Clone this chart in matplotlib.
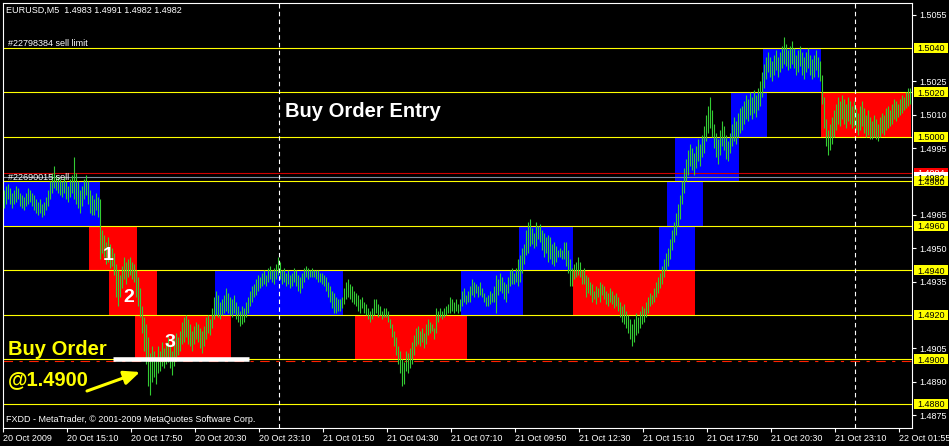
import matplotlib
matplotlib.use('Agg')
import matplotlib.pyplot as plt
from matplotlib.patches import Rectangle
from matplotlib.transforms import blended_transform_factory

plt.rcParams['font.family'] = ['Liberation Sans', 'DejaVu Sans']

# EURUSD M5 bars, high / low in pips above 1.4800 (one value per 5 minute bar)
bar_high = [
    176, 178, 179, 177, 175, 176, 178, 177, 175, 174,
    173, 175, 177, 176, 175, 174, 172, 171, 172, 170,
    171, 173, 176, 180, 184, 187, 183, 182, 181, 180,
    182, 180, 178, 181, 183, 191, 184, 180, 176, 178,
    181, 183, 180, 176, 174, 172, 175, 173, 172, 158,
    156, 153, 155, 152, 150, 148, 143, 140, 138, 142,
    146, 144, 145, 146, 144, 143, 140, 137, 132, 124,
    119, 116, 110, 103, 106, 104, 101, 106, 104, 108,
    105, 108, 110, 107, 104, 109, 112, 110, 113, 117,
    119, 120, 118, 116, 113, 115, 117, 116, 114, 113,
    115, 119, 120, 118, 123, 128, 131, 129, 126, 127,
    129, 132, 130, 128, 127, 129, 126, 124, 122, 124,
    123, 126, 128, 131, 133, 134, 136, 138, 137, 139,
    140, 138, 141, 142, 140, 141, 143, 146, 144, 140,
    141, 139, 140, 138, 139, 141, 140, 138, 137, 139,
    141, 142, 141, 140, 141, 140, 140, 140, 139, 139,
    138, 137, 135, 133, 131, 130, 128, 127, 127, 128,
    132, 135, 136, 134, 133, 131, 130, 129, 127, 128,
    126, 125, 123, 122, 123, 127, 127, 125, 124, 122,
    123, 123, 122, 118, 116, 113, 110, 106, 104, 100,
    99, 104, 103, 105, 108, 111, 114, 115, 113, 114,
    112, 116, 118, 117, 116, 114, 123, 122, 123, 122,
    123, 124, 125, 128, 127, 126, 127, 125, 127, 131,
    132, 129, 131, 133, 136, 135, 134, 133, 135, 132,
    130, 128, 129, 131, 130, 133, 138, 136, 139, 137,
    135, 134, 137, 140, 141, 139, 141, 145, 147, 150,
    152, 158, 162, 163, 159, 157, 162, 160, 161, 158,
    157, 155, 156, 155, 152, 153, 151, 149, 150, 149,
    153, 153, 149, 145, 141, 143, 144, 146, 144, 140,
    141, 138, 137, 135, 134, 131, 133, 132, 135, 134,
    133, 131, 130, 132, 131, 129, 130, 128, 126, 124,
    125, 122, 120, 118, 116, 118, 121, 119, 122, 124,
    123, 126, 128, 130, 129, 132, 135, 137, 139, 142,
    145, 148, 150, 154, 158, 162, 166, 170, 174, 180,
    186, 190, 194, 197, 195, 193, 196, 199, 197, 201,
    205, 210, 214, 218, 212, 206, 202, 199, 203, 207,
    205, 201, 198, 202, 206, 209, 207, 211, 213, 214,
    216, 219, 217, 220, 218, 221, 219, 222, 225, 229,
    233, 236, 238, 236, 234, 237, 239, 236, 238, 241,
    245, 242, 239, 241, 243, 240, 237, 239, 241, 238,
    236, 238, 240, 237, 235, 237, 239, 236, 234, 228,
    218, 208, 203, 206, 209, 212, 215, 218, 216, 219,
    217, 215, 218, 216, 214, 216, 213, 211, 214, 216,
    213, 210, 212, 209, 207, 210, 208, 206, 209, 211,
    210, 213, 214, 212, 215, 217, 216, 215, 217, 219,
    218, 220, 222, 222,
]
bar_low = [
    168, 170, 172, 170, 168, 170, 171, 172, 169, 168,
    167, 169, 170, 171, 169, 167, 166, 165, 166, 164,
    165, 167, 169, 172, 175, 177, 176, 175, 174, 173,
    175, 172, 171, 173, 175, 172, 170, 168, 166, 169,
    172, 174, 170, 166, 165, 165, 167, 164, 145, 148,
    146, 143, 144, 141, 142, 138, 128, 124, 128, 132,
    136, 134, 137, 138, 136, 135, 128, 124, 119, 112,
    104, 98, 88, 84, 90, 92, 89, 94, 95, 97,
    96, 98, 99, 96, 93, 97, 101, 102, 104, 107,
    108, 110, 107, 106, 104, 107, 109, 108, 105, 103,
    106, 109, 112, 111, 114, 118, 120, 119, 118, 120,
    121, 122, 121, 120, 119, 121, 118, 117, 115, 116,
    117, 119, 121, 124, 126, 128, 129, 131, 132, 133,
    134, 133, 135, 136, 135, 134, 136, 138, 136, 134,
    135, 133, 134, 132, 133, 135, 133, 131, 130, 132,
    135, 137, 136, 137, 137, 137, 136, 135, 135, 134,
    133, 131, 128, 126, 123, 121, 121, 122, 122, 123,
    125, 127, 128, 127, 126, 125, 124, 122, 121, 123,
    121, 120, 118, 117, 118, 120, 121, 119, 120, 118,
    119, 119, 117, 114, 110, 106, 102, 98, 94, 88,
    89, 95, 94, 96, 98, 102, 106, 107, 106, 108,
    105, 107, 111, 112, 113, 109, 112, 117, 119, 118,
    119, 120, 121, 121, 122, 121, 122, 121, 122, 124,
    126, 125, 126, 126, 129, 128, 130, 128, 129, 128,
    126, 124, 124, 125, 126, 126, 121, 129, 131, 130,
    127, 126, 130, 133, 134, 134, 135, 133, 135, 139,
    143, 147, 148, 151, 152, 150, 151, 154, 153, 149,
    146, 148, 144, 145, 143, 142, 144, 146, 146, 145,
    145, 142, 139, 133, 133, 136, 137, 138, 137, 134,
    134, 128, 130, 129, 126, 127, 125, 128, 126, 129,
    127, 125, 124, 126, 125, 123, 124, 122, 119, 117,
    116, 114, 112, 109, 106, 108, 111, 112, 114, 116,
    117, 119, 121, 124, 125, 126, 128, 130, 132, 134,
    137, 140, 142, 145, 149, 153, 156, 160, 163, 170,
    175, 180, 183, 187, 185, 183, 186, 189, 187, 191,
    193, 198, 202, 204, 200, 195, 191, 188, 192, 196,
    194, 190, 189, 193, 196, 198, 197, 200, 202, 203,
    206, 208, 207, 210, 208, 211, 209, 212, 214, 218,
    222, 226, 229, 227, 225, 228, 230, 227, 229, 231,
    233, 232, 230, 231, 233, 231, 228, 229, 232, 228,
    226, 229, 231, 228, 226, 227, 230, 227, 225, 215,
    204, 196, 192, 194, 197, 200, 203, 206, 205, 208,
    206, 204, 207, 206, 204, 205, 203, 201, 203, 205,
    202, 200, 201, 199, 199, 200, 199, 198, 200, 202,
    201, 203, 204, 205, 206, 208, 207, 209, 210, 211,
    212, 213, 214, 215,
]

# 20 pip boxes (bar index start / end, price range, direction)
box_start = [-0.5, 42.5, 52.5, 65.5, 105.5, 175.5, 228.5, 257.5, 284.5, 327.5, 331.5, 335.5, 363.5, 379.5, 408.5]
box_end = [48, 66.5, 76.5, 113.5, 169.5, 231.5, 259.5, 284.5, 345.5, 345.5, 349.5, 367.5, 381.5, 408.5, 453.5]
box_low = [1.4960, 1.4940, 1.4920, 1.4900, 1.4920, 1.4900, 1.4920, 1.4940, 1.4920, 1.4940, 1.4960, 1.4980, 1.5000, 1.5020, 1.5000]
box_dir = ['up', 'down', 'down', 'down', 'up', 'down', 'up', 'up', 'down', 'up', 'up', 'up', 'up', 'up', 'down']

levels = [1.5040, 1.5020, 1.5000, 1.4980, 1.4960, 1.4940, 1.4920, 1.4900, 1.4880]
price_ticks = [1.5055, 1.5025, 1.5010, 1.4995, 1.4965, 1.4950, 1.4935, 1.4905, 1.4890, 1.4875]
time_labels = ['20 Oct 2009', '20 Oct 15:10', '20 Oct 17:50', '20 Oct 20:30', '20 Oct 23:10',
               '21 Oct 01:50', '21 Oct 04:30', '21 Oct 07:10', '21 Oct 09:50', '21 Oct 12:30',
               '21 Oct 15:10', '21 Oct 17:50', '21 Oct 20:30', '21 Oct 23:10', '22 Oct 01:55']
day_breaks = [137.5, 425.5]
ask_price = 1.4984
bid_price = 1.4982
order_price = 1.4900

fig = plt.figure(figsize=(9.49, 4.46), dpi=100, facecolor='black')
ax = fig.add_axes([3 / 949, 18 / 446, 909 / 949, 425 / 446])
ax.set_facecolor('black')

for s, e, lo, d in zip(box_start, box_end, box_low, box_dir):
    ax.add_patch(Rectangle((s, lo), e - s, 0.0020, fc='#0000ff' if d == 'up' else '#ff0000', ec='none', zorder=1))

for lv in levels:
    ax.axhline(lv, color='#ffff00', lw=0.8, zorder=2)
ax.axhline(order_price - 0.00005, color='#ff2000', lw=0.8, ls=(0, (8.6, 5.8, 2.9, 5.8)), zorder=2)
ax.axhline(ask_price, color='#d00000', lw=0.8, zorder=2)
ax.axhline(bid_price, color='#8090a0', lw=0.8, zorder=2)
for d in day_breaks:
    ax.axvline(d, color='white', lw=0.8, ls=(0, (4, 3)), zorder=2)

x = list(range(len(bar_high)))
hi = [1.48 + p / 10000 for p in bar_high]
lo = [1.48 + p / 10000 for p in bar_low]
ax.vlines(x, lo, hi, color='#33cc33', lw=0.8, zorder=3)

ax.set_xlim(-0.5, 454)
ax.set_ylim(1.486921, 1.506022)

ax.yaxis.tick_right()
ax.set_yticks(price_ticks)
ax.set_yticklabels(['%.4f' % t for t in price_ticks])
ax.set_xticks([32 * i - 0.5 for i in range(len(time_labels))])
ax.set_xticklabels(time_labels, ha='left')
ax.tick_params(axis='both', colors='white', labelsize=6.5, length=3, width=0.8)
ax.tick_params(axis='y', pad=2)
ax.tick_params(axis='x', pad=1)
for sp in ax.spines.values():
    sp.set_color('white')
    sp.set_linewidth(0.8)

# price labels on the right axis
tr = blended_transform_factory(ax.transAxes, ax.transData)
bh = 10 / 22250
tags = [(ask_price, '#ff0000', 'white'), (bid_price, 'white', 'black')] + [(lv, '#ffff00', 'black') for lv in levels]
for p, fc, tc in tags:
    ax.add_patch(Rectangle((1.0022, p - bh / 2), 0.0374, bh, transform=tr, fc=fc, ec='none', clip_on=False, zorder=5))
    ax.text(1.0209, p, '%.4f' % p, transform=tr, ha='center', va='center_baseline', color=tc, fontsize=6.5, zorder=6, clip_on=False)

fig.text(6 / 949, 1 - 13 / 446, 'EURUSD,M5  1.4983 1.4991 1.4982 1.4982', color='white', fontsize=6.5, va='baseline')
fig.text(8 / 949, 1 - 46 / 446, '#22798384 sell limit', color='white', fontsize=6.5, va='baseline')
fig.text(8 / 949, 1 - 180 / 446, '#22690015 sell', color='white', fontsize=6.5, va='baseline')
fig.text(6 / 949, 1 - 422 / 446, 'FXDD - MetaTrader, \u00a9 2001-2009 MetaQuotes Software Corp.', color='white', fontsize=6.5, va='baseline')

ax.text(140.5, 1.500899, 'Buy Order Entry', color='white', fontsize=14.5, fontweight='bold', va='baseline', zorder=7)
ax.text(52, 1.494472, '1', color='white', fontsize=14, fontweight='bold', ha='center', va='baseline', zorder=7)
ax.text(62.5, 1.492584, '2', color='white', fontsize=14, fontweight='bold', ha='center', va='baseline', zorder=7)
ax.text(83, 1.490562, '3', color='white', fontsize=14, fontweight='bold', ha='center', va='baseline', zorder=7)
ax.text(2, 1.490202, 'Buy Order', color='#ffff00', fontsize=14.5, fontweight='bold', va='baseline', zorder=7)
ax.text(2, 1.488854, '@1.4900', color='#ffff00', fontsize=14.5, fontweight='bold', va='baseline', zorder=7)
ax.hlines(order_price, 54.5, 122.5, color='white', lw=3.3, zorder=4)
ax.annotate('', xy=(68, 1.489438), xytext=(41.5, 1.488584),
            arrowprops=dict(arrowstyle='-|>,head_length=0.8,head_width=0.35', color='#ffff00', lw=2.2,
                            mutation_scale=12, shrinkA=0, shrinkB=0), zorder=7)

fig.savefig('out.png', dpi=100, facecolor='black')
